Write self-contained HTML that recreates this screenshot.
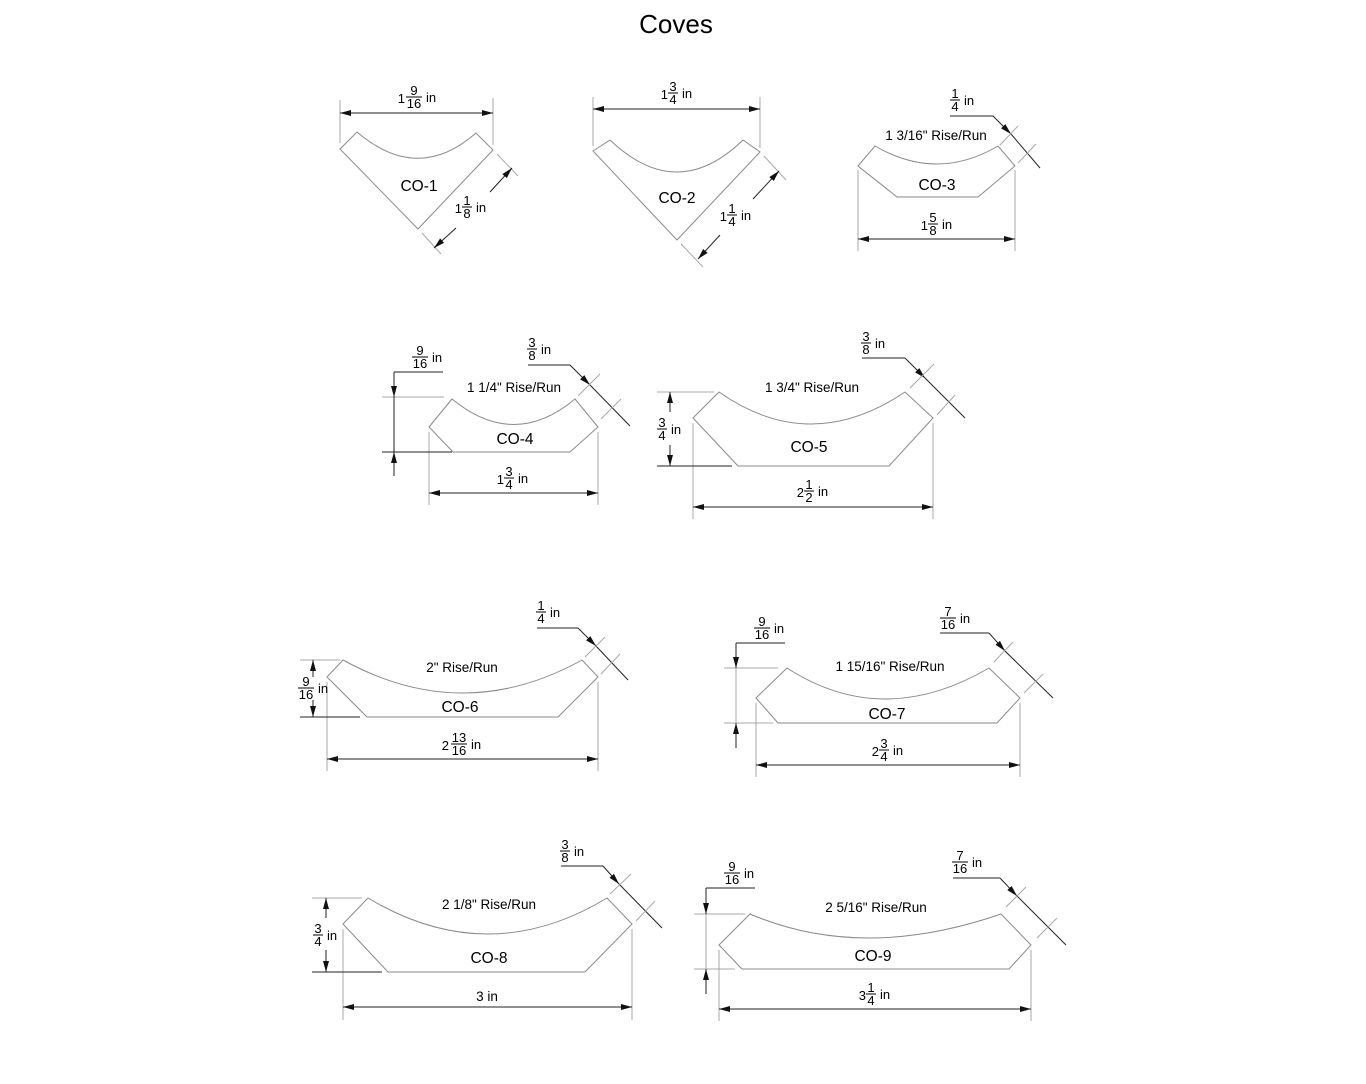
<!DOCTYPE html>
<html><head><meta charset="utf-8"><style>
html,body{margin:0;padding:0;background:#fff}
svg{display:block}
text{font-family:"Liberation Sans",Arial,sans-serif;fill:#000}
.s{fill:none;stroke:#8a8a8a;stroke-width:1}
.e{stroke:#a8a8a8;stroke-width:1}
.d{stroke:#222;stroke-width:1;marker-start:url(#a);marker-end:url(#a)}
.d1{stroke:#222;stroke-width:1;marker-end:url(#a)}
.l{stroke:#222;stroke-width:1}
.t{font-size:15.5px;text-anchor:middle}
.r{font-size:13.5px;text-anchor:middle}
.f text{font-size:13px}
.f line{stroke:#000;stroke-width:1}
</style></head><body>
<svg width="1366" height="1084" viewBox="0 0 1366 1084" xmlns="http://www.w3.org/2000/svg">
<defs><marker id="a" markerUnits="userSpaceOnUse" markerWidth="11" markerHeight="6" refX="11" refY="3" orient="auto-start-reverse"><path d="M0,0 L11,3 L0,6z" fill="#111"/></marker></defs>
<text x="676" y="33" font-size="26" text-anchor="middle">Coves</text>

<!-- CO-1 -->
<path class="s" d="M340,149 L357,132 Q418,184 476,133 L493,150 L418,229 Z"/>
<text class="t" x="419" y="191">CO-1</text>
<line class="e" x1="340" y1="100" x2="340" y2="143"/><line class="e" x1="493" y1="98" x2="493" y2="145"/>
<line class="d" x1="340" y1="113" x2="493" y2="113"/>
<g class="f" transform="translate(414,97)"><text x="-9" y="6" text-anchor="end">1</text><text x="0" y="-2" text-anchor="middle">9</text><line x1="-8" x2="8" y1="0" y2="0"/><text x="0" y="11" text-anchor="middle">16</text><text x="12" y="5">in</text></g>
<line class="e" x1="497" y1="154" x2="518" y2="176"/><line class="e" x1="422" y1="233" x2="441" y2="254"/>
<line class="d1" x1="490" y1="192" x2="512" y2="168"/><line class="d1" x1="456" y1="228" x2="434" y2="248"/>
<g class="f" transform="translate(467,207)"><text x="-5" y="6" text-anchor="end">1</text><text x="0" y="-2" text-anchor="middle">1</text><line x1="-5" x2="5" y1="0" y2="0"/><text x="0" y="11" text-anchor="middle">8</text><text x="9" y="5">in</text></g>

<!-- CO-2 -->
<path class="s" d="M593,151 L610,140 Q677,204 743,140 L760,152 L677,240 Z"/>
<text class="t" x="677" y="203">CO-2</text>
<line class="e" x1="593" y1="97" x2="593" y2="146"/><line class="e" x1="760" y1="97" x2="760" y2="148"/>
<line class="d" x1="593" y1="109" x2="760" y2="109"/>
<g class="f" transform="translate(673,93)"><text x="-5" y="6" text-anchor="end">1</text><text x="0" y="-2" text-anchor="middle">3</text><line x1="-5" x2="5" y1="0" y2="0"/><text x="0" y="11" text-anchor="middle">4</text><text x="9" y="5">in</text></g>
<line class="e" x1="764" y1="156" x2="786" y2="180"/><line class="e" x1="681" y1="244" x2="703" y2="267"/>
<line class="d1" x1="753" y1="199" x2="779" y2="171"/><line class="d1" x1="720" y1="235" x2="698" y2="259"/>
<g class="f" transform="translate(732,215)"><text x="-5" y="6" text-anchor="end">1</text><text x="0" y="-2" text-anchor="middle">1</text><line x1="-5" x2="5" y1="0" y2="0"/><text x="0" y="11" text-anchor="middle">4</text><text x="9" y="5">in</text></g>

<!-- CO-3 -->
<path class="s" d="M858,166 L875,146 Q937,182 998,146 L1015,166 L978,197 L897,197 Z"/>
<text class="t" x="937" y="190">CO-3</text>
<text class="r" x="936" y="140">1 3/16" Rise/Run</text>
<line class="e" x1="858" y1="170" x2="858" y2="251"/><line class="e" x1="1015" y1="170" x2="1015" y2="251"/>
<line class="d" x1="858" y1="239" x2="1015" y2="239"/>
<g class="f" transform="translate(933,224)"><text x="-5" y="6" text-anchor="end">1</text><text x="0" y="-2" text-anchor="middle">5</text><line x1="-5" x2="5" y1="0" y2="0"/><text x="0" y="11" text-anchor="middle">8</text><text x="9" y="5">in</text></g>
<g class="f" transform="translate(955,100)"><text x="0" y="-2" text-anchor="middle">1</text><line x1="-5" x2="5" y1="0" y2="0"/><text x="0" y="11" text-anchor="middle">4</text><text x="9" y="5">in</text></g>
<line class="l" x1="950" y1="116" x2="993" y2="116"/><line class="d1" x1="993" y1="116" x2="1011" y2="134"/>
<line class="l" x1="1011" y1="134" x2="1040" y2="168"/>
<line class="e" x1="1000" y1="145" x2="1018" y2="126"/><line class="e" x1="1018" y1="163" x2="1036" y2="144"/>

<!-- CO-4 -->
<path class="s" d="M429,427 L452,399 Q514,450 575,399 L598,427 L570,452 L453,452 Z"/>
<text class="t" x="515" y="444">CO-4</text>
<text class="r" x="514" y="392">1 1/4" Rise/Run</text>
<line class="e" x1="429" y1="432" x2="429" y2="505"/><line class="e" x1="598" y1="432" x2="598" y2="505"/>
<line class="d" x1="429" y1="493" x2="598" y2="493"/>
<g class="f" transform="translate(509,478)"><text x="-5" y="6" text-anchor="end">1</text><text x="0" y="-2" text-anchor="middle">3</text><line x1="-5" x2="5" y1="0" y2="0"/><text x="0" y="11" text-anchor="middle">4</text><text x="9" y="5">in</text></g>
<line class="e" x1="382" y1="397" x2="444" y2="397"/><line class="l" x1="382" y1="452" x2="452" y2="452"/>
<line class="l" x1="394" y1="372" x2="443" y2="372"/>
<line class="d1" x1="394" y1="372" x2="394" y2="397"/><line class="d1" x1="394" y1="476" x2="394" y2="452"/><line class="l" x1="394" y1="397" x2="394" y2="452"/>
<g class="f" transform="translate(420,357)"><text x="0" y="-2" text-anchor="middle">9</text><line x1="-8" x2="8" y1="0" y2="0"/><text x="0" y="11" text-anchor="middle">16</text><text x="12" y="5">in</text></g>
<g class="f" transform="translate(532,349)"><text x="0" y="-2" text-anchor="middle">3</text><line x1="-5" x2="5" y1="0" y2="0"/><text x="0" y="11" text-anchor="middle">8</text><text x="9" y="5">in</text></g>
<line class="l" x1="528" y1="365" x2="570" y2="365"/><line class="d1" x1="570" y1="365" x2="590" y2="385"/>
<line class="l" x1="590" y1="385" x2="630" y2="426"/>
<line class="e" x1="578" y1="396" x2="600" y2="374"/><line class="e" x1="601" y1="419" x2="621" y2="399"/>

<!-- CO-5 -->
<path class="s" d="M693,418 L719,392 Q810,456 905,392 L933,418 L889,466 L738,466 Z"/>
<text class="t" x="809" y="452">CO-5</text>
<text class="r" x="812" y="392">1 3/4" Rise/Run</text>
<line class="e" x1="693" y1="423" x2="693" y2="519"/><line class="e" x1="933" y1="423" x2="933" y2="519"/>
<line class="d" x1="693" y1="507" x2="933" y2="507"/>
<g class="f" transform="translate(809,491)"><text x="-5" y="6" text-anchor="end">2</text><text x="0" y="-2" text-anchor="middle">1</text><line x1="-5" x2="5" y1="0" y2="0"/><text x="0" y="11" text-anchor="middle">2</text><text x="9" y="5">in</text></g>
<line class="e" x1="657" y1="392" x2="714" y2="392"/><line class="l" x1="657" y1="466" x2="732" y2="466"/>
<line class="d1" x1="670" y1="412" x2="670" y2="392"/><line class="d1" x1="670" y1="445" x2="670" y2="466"/>
<g class="f" transform="translate(662,429)"><text x="0" y="-2" text-anchor="middle">3</text><line x1="-5" x2="5" y1="0" y2="0"/><text x="0" y="11" text-anchor="middle">4</text><text x="9" y="5">in</text></g>
<g class="f" transform="translate(866,343)"><text x="0" y="-2" text-anchor="middle">3</text><line x1="-5" x2="5" y1="0" y2="0"/><text x="0" y="11" text-anchor="middle">8</text><text x="9" y="5">in</text></g>
<line class="l" x1="862" y1="358" x2="905" y2="358"/><line class="d1" x1="905" y1="358" x2="925" y2="378"/>
<line class="l" x1="925" y1="378" x2="965" y2="418"/>
<line class="e" x1="910" y1="388" x2="934" y2="364"/><line class="e" x1="937" y1="415" x2="955" y2="395"/>

<!-- CO-6 -->
<path class="s" d="M327,677 L343,660 Q463,726 582,660 L598,677 L558,717 L367,717 Z"/>
<text class="t" x="460" y="712">CO-6</text>
<text class="r" x="462" y="672">2" Rise/Run</text>
<line class="e" x1="327" y1="682" x2="327" y2="771"/><line class="e" x1="598" y1="682" x2="598" y2="771"/>
<line class="d" x1="327" y1="759" x2="598" y2="759"/>
<g class="f" transform="translate(459,744)"><text x="-10" y="6" text-anchor="end">2</text><text x="0" y="-2" text-anchor="middle">13</text><line x1="-8" x2="8" y1="0" y2="0"/><text x="0" y="11" text-anchor="middle">16</text><text x="12" y="5">in</text></g>
<line class="e" x1="300" y1="660" x2="340" y2="660"/><line class="l" x1="300" y1="717" x2="360" y2="717"/>
<line class="d1" x1="313" y1="677" x2="313" y2="660"/><line class="d1" x1="313" y1="700" x2="313" y2="717"/>
<g class="f" transform="translate(306,688)"><text x="0" y="-2" text-anchor="middle">9</text><line x1="-8" x2="8" y1="0" y2="0"/><text x="0" y="11" text-anchor="middle">16</text><text x="12" y="5">in</text></g>
<g class="f" transform="translate(541,612)"><text x="0" y="-2" text-anchor="middle">1</text><line x1="-5" x2="5" y1="0" y2="0"/><text x="0" y="11" text-anchor="middle">4</text><text x="9" y="5">in</text></g>
<line class="l" x1="537" y1="628" x2="578" y2="628"/><line class="d1" x1="578" y1="628" x2="596" y2="646"/>
<line class="l" x1="596" y1="646" x2="628" y2="680"/>
<line class="e" x1="585" y1="657" x2="605" y2="637"/><line class="e" x1="601" y1="674" x2="620" y2="654"/>

<!-- CO-7 -->
<path class="s" d="M756,698 L787,668 Q883,730 989,668 L1020,698 L997,723 L778,723 Z"/>
<text class="t" x="887" y="719">CO-7</text>
<text class="r" x="890" y="671">1 15/16" Rise/Run</text>
<line class="e" x1="756" y1="703" x2="756" y2="777"/><line class="e" x1="1020" y1="703" x2="1020" y2="777"/>
<line class="d" x1="756" y1="765" x2="1020" y2="765"/>
<g class="f" transform="translate(884,750)"><text x="-5" y="6" text-anchor="end">2</text><text x="0" y="-2" text-anchor="middle">3</text><line x1="-5" x2="5" y1="0" y2="0"/><text x="0" y="11" text-anchor="middle">4</text><text x="9" y="5">in</text></g>
<line class="e" x1="724" y1="668" x2="778" y2="668"/><line class="e" x1="724" y1="723" x2="773" y2="723"/>
<line class="l" x1="736" y1="643" x2="785" y2="643"/>
<line class="d1" x1="736" y1="643" x2="736" y2="668"/><line class="d1" x1="736" y1="748" x2="736" y2="723"/><line class="e" x1="736" y1="668" x2="736" y2="723"/>
<g class="f" transform="translate(762,628)"><text x="0" y="-2" text-anchor="middle">9</text><line x1="-8" x2="8" y1="0" y2="0"/><text x="0" y="11" text-anchor="middle">16</text><text x="12" y="5">in</text></g>
<g class="f" transform="translate(948,618)"><text x="0" y="-2" text-anchor="middle">7</text><line x1="-8" x2="8" y1="0" y2="0"/><text x="0" y="11" text-anchor="middle">16</text><text x="12" y="5">in</text></g>
<line class="l" x1="940" y1="633" x2="989" y2="633"/><line class="d1" x1="989" y1="633" x2="1005" y2="651"/>
<line class="l" x1="1005" y1="651" x2="1053" y2="698"/>
<line class="e" x1="994" y1="662" x2="1013" y2="642"/><line class="e" x1="1024" y1="693" x2="1043" y2="674"/>

<!-- CO-8 -->
<path class="s" d="M343,924 L368,898 Q488,970 607,898 L632,924 L585,972 L388,972 Z"/>
<text class="t" x="489" y="963">CO-8</text>
<text class="r" x="489" y="909">2 1/8" Rise/Run</text>
<line class="e" x1="343" y1="929" x2="343" y2="1020"/><line class="e" x1="632" y1="929" x2="632" y2="1020"/>
<line class="d" x1="343" y1="1007" x2="632" y2="1007"/>
<text x="487" y="1001" font-size="13.5" text-anchor="middle">3 in</text>
<line class="e" x1="312" y1="898" x2="362" y2="898"/><line class="l" x1="312" y1="972" x2="382" y2="972"/>
<line class="d1" x1="326" y1="918" x2="326" y2="898"/><line class="d1" x1="326" y1="950" x2="326" y2="972"/>
<g class="f" transform="translate(318,935)"><text x="0" y="-2" text-anchor="middle">3</text><line x1="-5" x2="5" y1="0" y2="0"/><text x="0" y="11" text-anchor="middle">4</text><text x="9" y="5">in</text></g>
<g class="f" transform="translate(565,851)"><text x="0" y="-2" text-anchor="middle">3</text><line x1="-5" x2="5" y1="0" y2="0"/><text x="0" y="11" text-anchor="middle">8</text><text x="9" y="5">in</text></g>
<line class="l" x1="561" y1="866" x2="603" y2="866"/><line class="d1" x1="603" y1="866" x2="619" y2="884"/>
<line class="l" x1="619" y1="884" x2="662" y2="928"/>
<line class="e" x1="610" y1="894" x2="631" y2="874"/><line class="e" x1="636" y1="921" x2="655" y2="901"/>

<!-- CO-9 -->
<path class="s" d="M719,945 L750,914 Q862,962 1001,914 L1031,945 L1009,969 L742,969 Z"/>
<text class="t" x="873" y="961">CO-9</text>
<text class="r" x="876" y="912">2 5/16" Rise/Run</text>
<line class="e" x1="719" y1="950" x2="719" y2="1021"/><line class="e" x1="1031" y1="950" x2="1031" y2="1021"/>
<line class="d" x1="719" y1="1009" x2="1031" y2="1009"/>
<g class="f" transform="translate(871,994)"><text x="-5" y="6" text-anchor="end">3</text><text x="0" y="-2" text-anchor="middle">1</text><line x1="-5" x2="5" y1="0" y2="0"/><text x="0" y="11" text-anchor="middle">4</text><text x="9" y="5">in</text></g>
<line class="e" x1="694" y1="914" x2="745" y2="914"/><line class="e" x1="694" y1="969" x2="735" y2="969"/>
<line class="l" x1="706" y1="888" x2="755" y2="888"/>
<line class="d1" x1="706" y1="888" x2="706" y2="914"/><line class="d1" x1="706" y1="994" x2="706" y2="969"/><line class="e" x1="706" y1="914" x2="706" y2="969"/>
<g class="f" transform="translate(732,873)"><text x="0" y="-2" text-anchor="middle">9</text><line x1="-8" x2="8" y1="0" y2="0"/><text x="0" y="11" text-anchor="middle">16</text><text x="12" y="5">in</text></g>
<g class="f" transform="translate(960,862)"><text x="0" y="-2" text-anchor="middle">7</text><line x1="-8" x2="8" y1="0" y2="0"/><text x="0" y="11" text-anchor="middle">16</text><text x="12" y="5">in</text></g>
<line class="l" x1="953" y1="878" x2="1000" y2="878"/><line class="d1" x1="1000" y1="878" x2="1017" y2="896"/>
<line class="l" x1="1017" y1="896" x2="1066" y2="945"/>
<line class="e" x1="1006" y1="907" x2="1026" y2="887"/><line class="e" x1="1037" y1="938" x2="1057" y2="918"/>
</svg>
</body></html>
